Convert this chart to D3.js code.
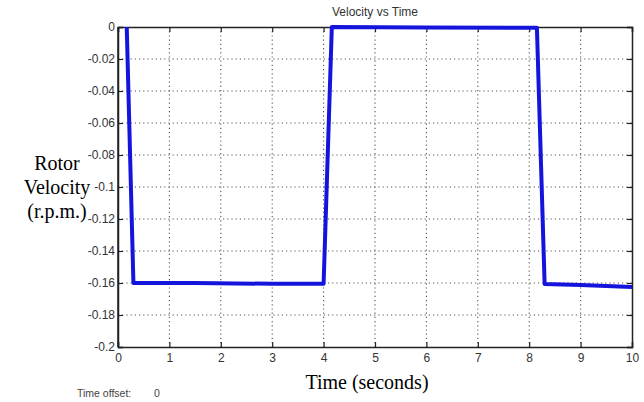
<!DOCTYPE html>
<html>
<head>
<meta charset="utf-8">
<script src="https://cdn.jsdelivr.net/npm/d3@7"></script>
<style>
  body { margin: 0; background: #fff; }
  svg { display: block; }
</style>
</head>
<body>
<script>
// data
var time     = [0.17, 0.30, 1.5, 3.0, 4.00, 4.16, 6.0, 8.15, 8.30, 9.0, 10.0];
var velocity = [0, -0.160, -0.160, -0.1605, -0.1605, 0, -0.0003, -0.0005, -0.1606, -0.1612, -0.1625];
var xTicks = [0, 1, 2, 3, 4, 5, 6, 7, 8, 9, 10];
var yTicks = [0, -0.02, -0.04, -0.06, -0.08, -0.1, -0.12, -0.14, -0.16, -0.18, -0.2];

var W = 644, H = 402;
var pLeft = 118, pRight = 632, pTop = 27, pBottom = 347;

var svg = d3.select('body').append('svg')
  .attr('width', W)
  .attr('height', H);

var x = d3.scaleLinear().domain([0, 10]).range([pLeft, pRight]);
var y = d3.scaleLinear().domain([-0.2, 0]).range([pBottom, pTop]);

// dotted grid
var grid = svg.append('g').attr('stroke', '#555').attr('stroke-width', 1.1).attr('stroke-dasharray', '1.2,3');
grid.selectAll('line.vx').data(xTicks.slice(1, -1)).enter().append('line')
  .attr('x1', function(d){ return x(d); }).attr('x2', function(d){ return x(d); })
  .attr('y1', pTop).attr('y2', pBottom);
grid.selectAll('line.hy').data(yTicks.slice(1, -1)).enter().append('line')
  .attr('x1', pLeft).attr('x2', pRight)
  .attr('y1', function(d){ return y(d); }).attr('y2', function(d){ return y(d); });

svg.append('clipPath').attr('id', 'clip')
  .append('rect').attr('x', pLeft).attr('y', pTop - 3).attr('width', pRight - pLeft).attr('height', pBottom - pTop + 3);

// axes (box with inner ticks like matlab)
var xAxis = svg.append('g').attr('transform', 'translate(0,' + pBottom + ')')
  .call(d3.axisBottom(x).tickValues(xTicks).tickSize(-5).tickPadding(9).tickFormat(d3.format('d')));
var xAxisTop = svg.append('g').attr('transform', 'translate(0,' + pTop + ')')
  .call(d3.axisTop(x).tickValues(xTicks).tickSize(-5).tickFormat(''));
var yAxis = svg.append('g').attr('transform', 'translate(' + pLeft + ',0)')
  .call(d3.axisLeft(y).tickValues(yTicks).tickSize(-5).tickPadding(4).tickFormat(function(d){ return d === 0 ? '0' : String(+d.toFixed(2)); }));
var yAxisR = svg.append('g').attr('transform', 'translate(' + pRight + ',0)')
  .call(d3.axisRight(y).tickValues(yTicks).tickSize(-5).tickFormat(''));

[xAxis, xAxisTop, yAxis, yAxisR].forEach(function(g){
  g.select('.domain').attr('stroke', '#222').attr('stroke-width', 1.5);
  g.selectAll('.tick line').attr('stroke', '#222').attr('stroke-width', 1.2);
  g.selectAll('.tick text').attr('font-family', 'Arial, Liberation Sans, sans-serif').attr('font-size', 12).attr('fill', '#333');
});
xAxis.selectAll('.tick text').attr('dy', '0.5em');
yAxis.selectAll('.tick text').attr('x', -3);

// velocity line
var line = d3.line()
  .x(function(d, i){ return x(time[i]); })
  .y(function(d){ return y(d); });

svg.append('path')
  .datum(velocity)
  .attr('clip-path', 'url(#clip)')
  .attr('fill', 'none')
  .attr('stroke', '#1414dc')
  .attr('stroke-width', 4)
  .attr('stroke-linejoin', 'round')
  .attr('d', line);

svg.append('line').attr('x1', pLeft).attr('x2', pLeft).attr('y1', pTop).attr('y2', pBottom).attr('stroke', '#222').attr('stroke-width', 1.5);

// title
svg.append('text')
  .attr('x', (pLeft + pRight) / 2).attr('y', 16)
  .attr('text-anchor', 'middle')
  .attr('font-family', 'Arial, Liberation Sans, sans-serif')
  .attr('font-size', 12).attr('fill', '#333')
  .text('Velocity vs Time');

// y label
var ylab = ['Rotor', 'Velocity', '(r.p.m.)'];
svg.selectAll('text.ylab').data(ylab).enter().append('text')
  .attr('class', 'ylab')
  .attr('x', 57)
  .attr('y', function(d, i){ return 170 + i * 24; })
  .attr('text-anchor', 'middle')
  .attr('font-family', 'Liberation Serif, Times New Roman, serif')
  .attr('font-size', 20).attr('fill', '#000')
  .text(function(d){ return d; });

// x label
svg.append('text')
  .attr('x', 367).attr('y', 389)
  .attr('text-anchor', 'middle')
  .attr('font-family', 'Liberation Serif, Times New Roman, serif')
  .attr('font-size', 20).attr('fill', '#000')
  .text('Time (seconds)');

// time offset readout
svg.append('text')
  .attr('x', 77).attr('y', 397)
  .attr('font-family', 'Arial, Liberation Sans, sans-serif')
  .attr('font-size', 10.5).attr('fill', '#444')
  .text('Time offset:');
svg.append('text')
  .attr('x', 154).attr('y', 397)
  .attr('font-family', 'Arial, Liberation Sans, sans-serif')
  .attr('font-size', 10.5).attr('fill', '#444')
  .text('0');
</script>
</body>
</html>
